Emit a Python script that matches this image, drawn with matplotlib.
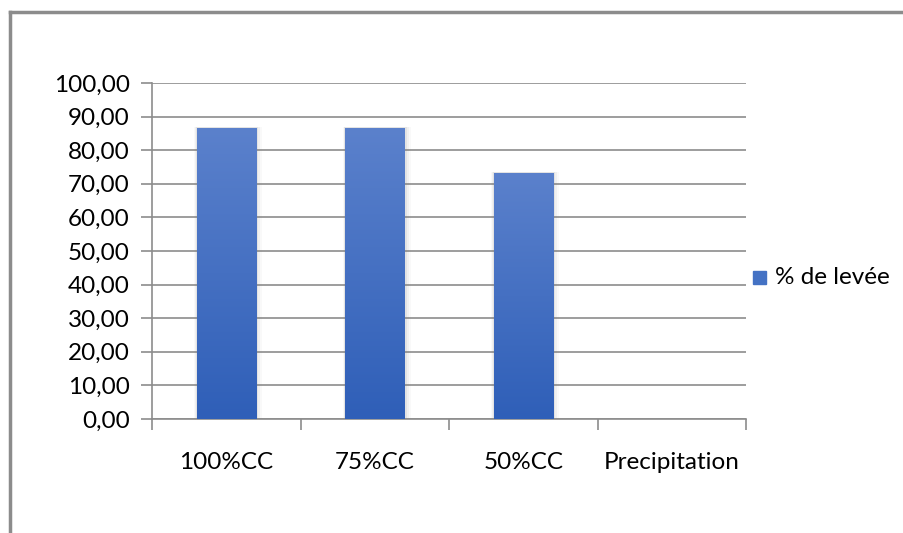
import numpy as np
import matplotlib.pyplot as plt
from matplotlib.patches import Rectangle
from matplotlib.colors import LinearSegmentedColormap

categories = ['100%CC', '75%CC', '50%CC', 'Precipitation']
levee = [86.67, 86.67, 73.33, 0.0]
yticks = np.arange(0, 101, 10)

plt.rcParams['font.family'] = ['Lato', 'DejaVu Sans']

fig = plt.figure(figsize=(9.04, 5.33), dpi=100)
ax = fig.add_axes([152 / 904, 1 - 419 / 533, 594 / 904, 336 / 533])

x = np.arange(len(categories))
bars = ax.bar(x, levee, width=0.4, color='#4472c4', zorder=3)

# vertical gradient inside each bar, plus a soft shadow on the sides
grad = LinearSegmentedColormap.from_list('g', ['#2f5fb8', '#5b81cc'])
for b in bars:
    h = b.get_height()
    if h <= 0:
        continue
    x0, w = b.get_x(), b.get_width()
    for k, a in enumerate([0.10, 0.07, 0.04]):
        d = 0.012 * (k + 1)
        ax.add_patch(Rectangle((x0 - d * 0.4, 0), w + d * 1.6, h + d * 8,
                               color='#7f7f7f', alpha=a, lw=0, zorder=2))
    img = np.linspace(0, 1, 200).reshape(-1, 1)
    im = ax.imshow(img, cmap=grad, origin='lower', aspect='auto',
                   extent=[x0, x0 + w, 0, h], zorder=4)
    im.set_clip_path(b)

ax.set_xlim(-0.5, len(categories) - 0.5)
ax.set_ylim(0, 100)
ax.set_yticks(yticks)
ax.set_yticklabels([f'{v:.2f}'.replace('.', ',') for v in yticks], fontsize=17.5)
ax.yaxis.grid(True, color='#8c8c8c', lw=1.2, zorder=0)

ax.set_xticks(np.arange(len(categories) + 1) - 0.5)
ax.set_xticklabels([])
ax.set_xticks(x, minor=True)
ax.set_xticklabels(categories, minor=True, fontsize=17.5)
ax.tick_params(axis='x', which='minor', length=0, pad=24)
ax.tick_params(axis='x', which='major', length=8, color='#8c8c8c', width=1.2)
ax.tick_params(axis='y', length=8, color='#8c8c8c', width=1.2, pad=8)

for s in ['top', 'right']:
    ax.spines[s].set_visible(False)
ax.spines['left'].set_color('#8c8c8c')
ax.spines['bottom'].set_color('#8c8c8c')
ax.spines['left'].set_linewidth(1.2)
ax.spines['bottom'].set_linewidth(1.2)

# legend
fig.patches.append(Rectangle((753 / 904, 1 - 284 / 533), 13 / 904, 13 / 533,
                             transform=fig.transFigure, color='#4472c4'))
fig.text(775 / 904, 1 - 277 / 533, '% de levée', fontsize=17.5, va='center')

# outer chart frame
fig.add_artist(plt.Line2D([10 / 904, 10 / 904], [0, 1 - 12 / 533],
                          transform=fig.transFigure, color='#8c8c8c', lw=2.5))
fig.add_artist(plt.Line2D([10 / 904, 1], [1 - 12 / 533, 1 - 12 / 533],
                          transform=fig.transFigure, color='#8c8c8c', lw=2.5))

fig.savefig('out.png', dpi=100)
